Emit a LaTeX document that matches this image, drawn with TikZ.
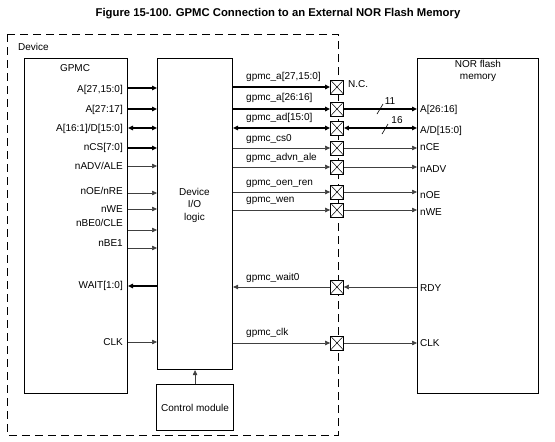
\documentclass[tikz,border=0pt]{standalone}
\usepackage{fontspec}
\setmainfont{Liberation Sans}
\usetikzlibrary{arrows.meta}
\begin{document}
\begin{tikzpicture}[x=1pt,y=-1pt,
  font=\fontsize{10}{12}\selectfont,
  box/.style={draw, line width=1.1pt, inner sep=0pt, anchor=north west},
  thk/.style={line width=1.7pt, draw=black},
  thn/.style={line width=0.6pt, draw=black!75},
  tip/.style={-{Triangle[length=5pt,width=4.5pt]}},
  tipb/.style={{Triangle[length=5pt,width=4.5pt]}-{Triangle[length=5pt,width=4.5pt]}},
  tipl/.style={{Triangle[length=5pt,width=4.5pt]}-},
  devline/.style={line width=0.9pt, dash pattern=on 8pt off 5pt},
  xbox/.style={draw, line width=0.8pt, fill=white, minimum width=13pt, minimum height=14pt, inner sep=0pt,
    path picture={\draw[line width=0.5pt] (path picture bounding box.north west) -- (path picture bounding box.south east)
      (path picture bounding box.north east) -- (path picture bounding box.south west);}},
  lab/.style={inner sep=1pt},
  labE/.style={lab, anchor=east},
  labW/.style={lab, anchor=west}
]
\useasboundingbox (0,0) rectangle (555,442);

% title
\node[font=\bfseries\fontsize{11.3}{13}\selectfont] (title) at (278,14) {Figure 15-100. GPMC Connection to an External NOR Flash Memory};

% device boundary
\draw[devline] (7,34) rectangle (338,435);
\node[labW] (devlab) at (17,47) {Device};

% boxes
\node[box, minimum width=103pt, minimum height=335pt] (gpmc) at (24,58) {};
\node (gpmclab) at (75,68) {GPMC};
\node[box, minimum width=75pt, minimum height=311pt] (io) at (157,58) {};
\node[align=center, font=\fontsize{10}{12.5}\selectfont] (iolab) at (194.5,205) {Device\\I/O\\logic};
\node[box, minimum width=77pt, minimum height=46pt] (ctrl) at (156,384) {};
\node (ctrllab) at (ctrl.center) {Control module};
\node[box, minimum width=121pt, minimum height=335pt] (nor) at (417,58) {};
\node[align=center, font=\fontsize{10}{12.5}\selectfont] (norlab) at (478,71) {NOR flash\\memory};

\draw[thn,tip] (ctrl.north) -- (io.south);

% GPMC -> IO signals
\foreach \n/\y in {r1/88,r2/109,r3/128,r4/148,r5/166,r6/193,r7/209,r8/230,r9/248,r10/286,r11/342}
  \coordinate (\n) at (0,\y);
\draw[thk,tip]  (gpmc.east |- r1) -- (io.west |- r1);
\draw[thk,tip]  (gpmc.east |- r2) -- (io.west |- r2);
\draw[thk,tipb] (gpmc.east |- r3) -- (io.west |- r3);
\draw[thk,tip]  (gpmc.east |- r4) -- (io.west |- r4);
\draw[thn,tip]  (gpmc.east |- r5) -- (io.west |- r5);
\draw[thn,tip]  (gpmc.east |- r6) -- (io.west |- r6);
\draw[thn,tip]  (gpmc.east |- r7) -- (io.west |- r7);
\draw[thn,tip]  (gpmc.east |- r8) -- (io.west |- r8);
\draw[thn,tip]  (gpmc.east |- r9) -- (io.west |- r9);
\draw[thk,tipl] (gpmc.east |- r10) -- (io.west |- r10);
\draw[thn,tip]  (gpmc.east |- r11) -- (io.west |- r11);

\node[labE] (g1) at (124,90) {A[27,15:0]};
\node[labE] (g2) at (124,110) {A[27:17]};
\node[labE] (g3) at (124,129) {A[16:1]/D[15:0]};
\node[labE] (g4) at (124,148) {nCS[7:0]};
\node[labE] (g5) at (124,166) {nADV/ALE};
\node[labE] (g6) at (124,191) {nOE/nRE};
\node[labE] (g7) at (124,209) {nWE};
\node[labE] (g8) at (124,223) {nBE0/CLE};
\node[labE] (g9) at (124,243) {nBE1};
\node[labE] (g10) at (124,286) {WAIT[1:0]};
\node[labE] (g11) at (124,342) {CLK};

% cross boxes
\node[xbox] (x1) at (337,87) {};
\node[xbox] (x2) at (337,109) {};
\node[xbox] (x3) at (337,128) {};
\node[xbox] (x4) at (337,148) {};
\node[xbox] (x5) at (337,167) {};
\node[xbox] (x6) at (337,192) {};
\node[xbox] (x7) at (337,210) {};
\node[xbox] (x8) at (337,287) {};
\node[xbox] (x9) at (337,343) {};
\node[labW] (nc) at (347,84) {N.C.};

% IO -> cross boxes
\draw[thk,tip]  (io.east |- x1) -- (x1.west);
\draw[thk,tip]  (io.east |- x2) -- (x2.west);
\draw[thk,tipb] (io.east |- x3) -- (x3.west);
\draw[thn,tip]  (io.east |- x4) -- (x4.west);
\draw[thn,tip]  (io.east |- x5) -- (x5.west);
\draw[thn,tip]  (io.east |- x6) -- (x6.west);
\draw[thn,tip]  (io.east |- x7) -- (x7.west);
\draw[thn,tipl] (io.east |- x8) -- (x8.west);
\draw[thn,tip]  (io.east |- x9) -- (x9.west);

\node[labW] (h1) at (245,77) {gpmc\_a[27,15:0]};
\node[labW] (h2) at (245,98) {gpmc\_a[26:16]};
\node[labW] (h3) at (245,118) {gpmc\_ad[15:0]};
\node[labW] (h4) at (245,139) {gpmc\_cs0};
\node[labW] (h5) at (245,158) {gpmc\_advn\_ale};
\node[labW] (h6) at (245,184) {gpmc\_oen\_ren};
\node[labW] (h7) at (245,201) {gpmc\_wen};
\node[labW] (h8) at (245,278) {gpmc\_wait0};
\node[labW] (h9) at (245,333) {gpmc\_clk};

% cross boxes -> NOR
\draw[thk,tip]  (x2.east) -- (nor.west |- x2);
\draw[thk,tipb] (x3.east) -- (nor.west |- x3);
\draw[thn,tip]  (x4.east) -- (nor.west |- x4);
\draw[thn,tip]  (x5.east) -- (nor.west |- x5);
\draw[thn,tip]  (x6.east) -- (nor.west |- x6);
\draw[thn,tip]  (x7.east) -- (nor.west |- x7);
\draw[thn,tipl] (x8.east) -- (nor.west |- x8);
\draw[thn,tip]  (x9.east) -- (nor.west |- x9);

% bus width marks
\coordinate (s1a) at (377,114); \coordinate (s1b) at (383,104);
\draw[line width=0.6pt] (s1a) -- (s1b);
\node[lab] (w11) at (390,101) {11};
\coordinate (s2a) at (382,134); \coordinate (s2b) at (388,124);
\draw[line width=0.6pt] (s2a) -- (s2b);
\node[lab] (w16) at (397,120) {16};

\node[labW] (n2) at (419,110) {A[26:16]};
\node[labW] (n3) at (419,131) {A/D[15:0]};
\node[labW] (n4) at (419,147) {nCE};
\node[labW] (n5) at (419,169) {nADV};
\node[labW] (n6) at (419,195) {nOE};
\node[labW] (n7) at (419,212) {nWE};
\node[labW] (n8) at (419,288) {RDY};
\node[labW] (n9) at (419,343) {CLK};
\end{tikzpicture}
\end{document}
